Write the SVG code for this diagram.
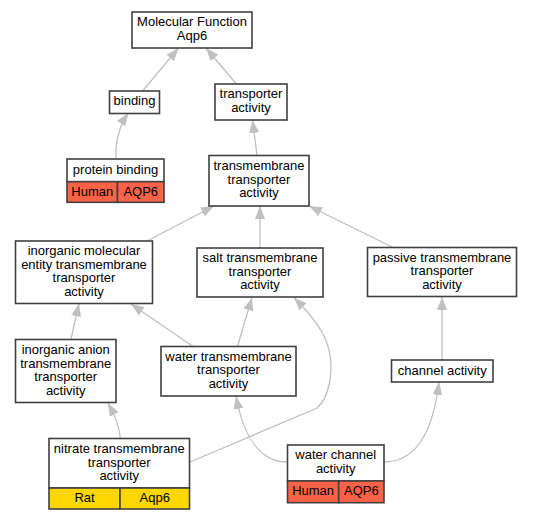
<svg xmlns="http://www.w3.org/2000/svg" width="533" height="520" viewBox="0 0 533 520">
<defs>
<marker id="arr" markerUnits="userSpaceOnUse" markerWidth="13" markerHeight="10" refX="13" refY="5" orient="auto">
<path d="M0,0 L13,5 L0,10 Z" fill="#c0c0c0"/>
</marker>
<style>
.box{fill:#ffffff;stroke:#404040;stroke-width:1.6}
.hum{fill:#ff6347;stroke:#404040;stroke-width:1.6}
.rat{fill:#ffd700;stroke:#404040;stroke-width:1.6}
.edge{fill:none;stroke:#c0c0c0;stroke-width:1.3;marker-end:url(#arr)}
text{font-family:"Liberation Sans",Arial,sans-serif;font-size:13px;fill:#000;text-anchor:middle}
</style>
</defs>
<rect width="533" height="520" fill="#ffffff"/>
<g id="edges">
<path class="edge" d="M143,90.5 L178.5,48"/>
<path class="edge" d="M236,83.5 L206,48"/>
<path class="edge" d="M116,158.5 C115,140 120,125 128.5,113"/>
<path class="edge" d="M257,155 L252.5,120"/>
<path class="edge" d="M147,241 L214,206"/>
<path class="edge" d="M260,248 L260,206"/>
<path class="edge" d="M393,247.5 L309,206"/>
<path class="edge" d="M71,339 L79,303.5"/>
<path class="edge" d="M193,346.5 L131,304"/>
<path class="edge" d="M237.5,346.5 L252,297.5"/>
<path class="edge" d="M190,462 L317,408 C329,398 334,372 329,350 C325,332 312,316 294,297.5"/>
<path class="edge" d="M287.5,462 C262,462 244,440 236,396"/>
<path class="edge" d="M384,462 C412,462 432,440 439,382"/>
<path class="edge" d="M120,438 C120,428 116,418 108,403"/>
<path class="edge" d="M442,360 L442,297"/>
</g>
<g id="mf">
<rect class="box" x="132" y="12" width="120" height="36"/>
<text x="192" y="26">Molecular Function</text>
<text x="192" y="39.5">Aqp6</text>
</g>
<g id="binding">
<rect class="box" x="109.5" y="91" width="50" height="22.5"/>
<text x="134.5" y="105">binding</text>
</g>
<g id="transporter">
<rect class="box" x="215" y="84" width="72" height="36"/>
<text x="251" y="98">transporter</text>
<text x="251" y="111.5">activity</text>
</g>
<g id="proteinbinding">
<rect class="box" x="67" y="159" width="97" height="22.7"/>
<rect class="hum" x="67" y="181.7" width="50.5" height="20.6"/>
<rect class="hum" x="117.5" y="181.7" width="46.5" height="20.6"/>
<text x="115.5" y="173.5">protein binding</text>
<text x="92.25" y="195.5">Human</text>
<text x="140.75" y="195.5">AQP6</text>
</g>
<g id="tmtransporter">
<rect class="box" x="209" y="155.5" width="100" height="50.5"/>
<text x="259" y="170">transmembrane</text>
<text x="259" y="183.5">transporter</text>
<text x="259" y="197">activity</text>
</g>
<g id="inorgmol">
<rect class="box" x="15.5" y="241" width="137" height="62.5"/>
<text x="84" y="255">inorganic molecular</text>
<text x="84" y="268.5">entity transmembrane</text>
<text x="84" y="282">transporter</text>
<text x="84" y="295.5">activity</text>
</g>
<g id="salt">
<rect class="box" x="197" y="248" width="126" height="49"/>
<text x="260" y="262">salt transmembrane</text>
<text x="260" y="275.5">transporter</text>
<text x="260" y="289">activity</text>
</g>
<g id="passive">
<rect class="box" x="367.5" y="247.5" width="149" height="49"/>
<text x="442" y="261.5">passive transmembrane</text>
<text x="442" y="275">transporter</text>
<text x="442" y="288.5">activity</text>
</g>
<g id="inorganion">
<rect class="box" x="15.5" y="339.5" width="100.5" height="63"/>
<text x="65.75" y="354">inorganic anion</text>
<text x="65.75" y="367.5">transmembrane</text>
<text x="65.75" y="381">transporter</text>
<text x="65.75" y="394.5">activity</text>
</g>
<g id="watertm">
<rect class="box" x="161" y="346.5" width="135" height="49.5"/>
<text x="228.5" y="360.5">water transmembrane</text>
<text x="228.5" y="374">transporter</text>
<text x="228.5" y="387.5">activity</text>
</g>
<g id="channel">
<rect class="box" x="391.5" y="360" width="101.5" height="22"/>
<text x="442.25" y="374.5">channel activity</text>
</g>
<g id="nitrate">
<rect class="box" x="49" y="438.5" width="140.5" height="49.5"/>
<rect class="rat" x="49" y="488" width="71" height="21"/>
<rect class="rat" x="120" y="488" width="69.5" height="21"/>
<text x="119.25" y="453">nitrate transmembrane</text>
<text x="119.25" y="466.5">transporter</text>
<text x="119.25" y="480">activity</text>
<text x="84.5" y="502">Rat</text>
<text x="154.75" y="502">Aqp6</text>
</g>
<g id="waterchannel">
<rect class="box" x="287.5" y="445" width="96.5" height="36"/>
<rect class="hum" x="287.5" y="481" width="51.2" height="21.7"/>
<rect class="hum" x="338.7" y="481" width="45.3" height="21.7"/>
<text x="335.75" y="459">water channel</text>
<text x="335.75" y="472.5">activity</text>
<text x="313.1" y="495">Human</text>
<text x="361.35" y="495">AQP6</text>
</g>
</svg>
